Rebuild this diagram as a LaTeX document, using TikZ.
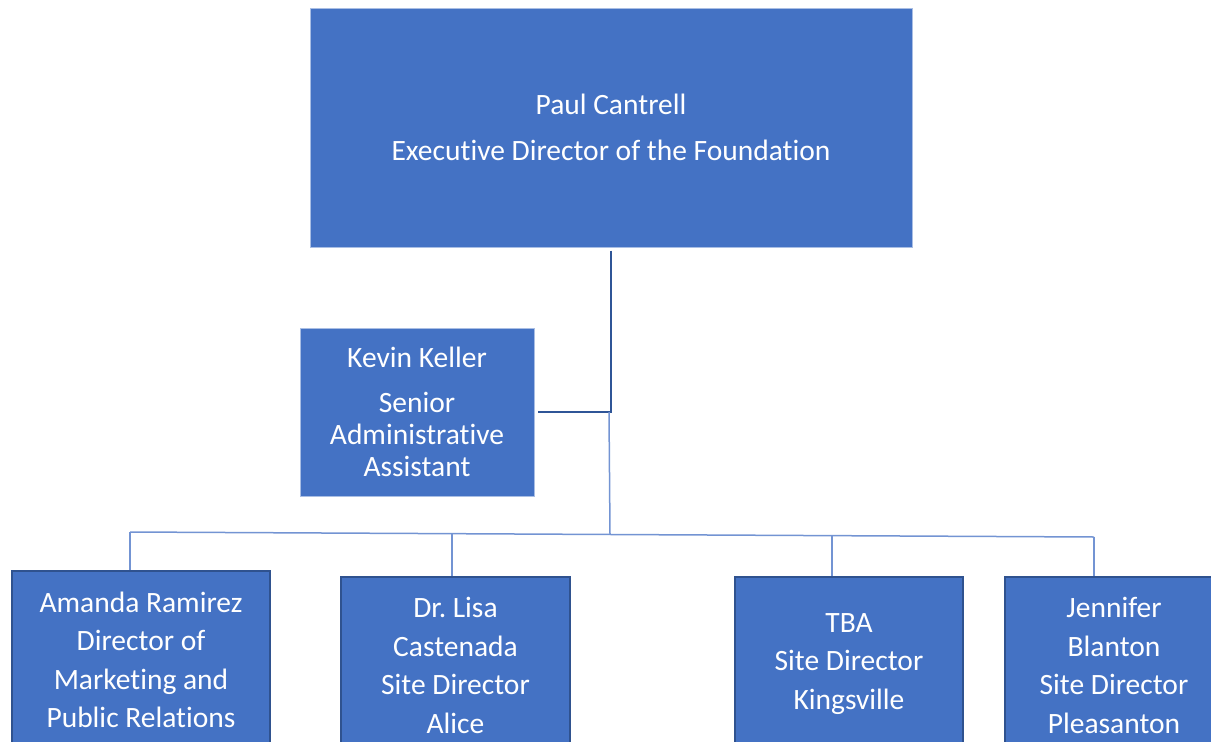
\documentclass[tikz,border=0pt]{standalone}
\usepackage{fontspec}
\setmainfont{Carlito}[Ligatures=NoCommon]
\frenchspacing
\definecolor{boxblue}{HTML}{4472C4}
\definecolor{boxedge}{HTML}{2F528F}
\definecolor{paleedge}{HTML}{A9BEE4}
\definecolor{mainline}{HTML}{2F5597}
\definecolor{thinline}{HTML}{7394D3}
\tikzset{
  unit/.style={rectangle,fill=boxblue,text=white,align=center,inner sep=0pt},
  head/.style={unit,draw=paleedge,line width=1pt,font=\fontsize{29.5}{32}\selectfont},
  site/.style={unit,draw=boxedge,line width=2pt,font=\fontsize{29.5}{38.5}\selectfont},
  link/.style={thinline,line width=1.5pt}
}
\begin{document}
\begin{tikzpicture}[x=1pt,y=-1pt]
            \useasboundingbox (0,0) rectangle (1211,742);
            \node[head,minimum width=602pt,minimum height=239pt] (exec) at (611,127.5)
                {Paul Cantrell\\[14pt]Executive Director of the Foundation};
            \node[head,minimum width=234pt,minimum height=168pt] (kevin) at (417,412)
                {Kevin Keller\\[13pt]Senior\\Administrative\\Assistant};
            \node[site,minimum width=258pt,minimum height=178pt] (amanda) at (141,660)
                {Amanda Ramirez\\Director of\\Marketing and\\Public Relations};
            \node[site,minimum width=229pt,minimum height=177pt] (lisa) at (455.5,665.5)
                {Dr.\ Lisa\\Castenada\\Site Director\\Alice};
            \node[site,minimum width=228pt,minimum height=174pt] (tba) at (849,664)
                {TBA\\Site Director\\Kingsville};
            \node[site,minimum width=218pt,minimum height=177pt] (jennifer) at (1114,665.5)
                {Jennifer\\Blanton\\Site Director\\Pleasanton};
            \draw[mainline,line width=2.5pt,shorten <=3pt,shorten >=3pt] (exec.south) |- (kevin.east);
            \coordinate (hub) at (609,412);
            \coordinate (bus) at (610,534);
            \coordinate (d1) at (130,532);
            \coordinate (d2) at (452,533);
            \coordinate (d3) at (832,536);
            \coordinate (d4) at (1094,537);
            \draw[link] (hub) -- (bus);
            \draw[link] (d1) -- (d4);
            \draw[link] (d1) -- (d1 |- amanda.north);
            \draw[link] (d2) -- (d2 |- lisa.north);
            \draw[link] (d3) -- (d3 |- tba.north);
            \draw[link] (d4) -- (d4 |- jennifer.north);
        \end{tikzpicture}
\end{document}
